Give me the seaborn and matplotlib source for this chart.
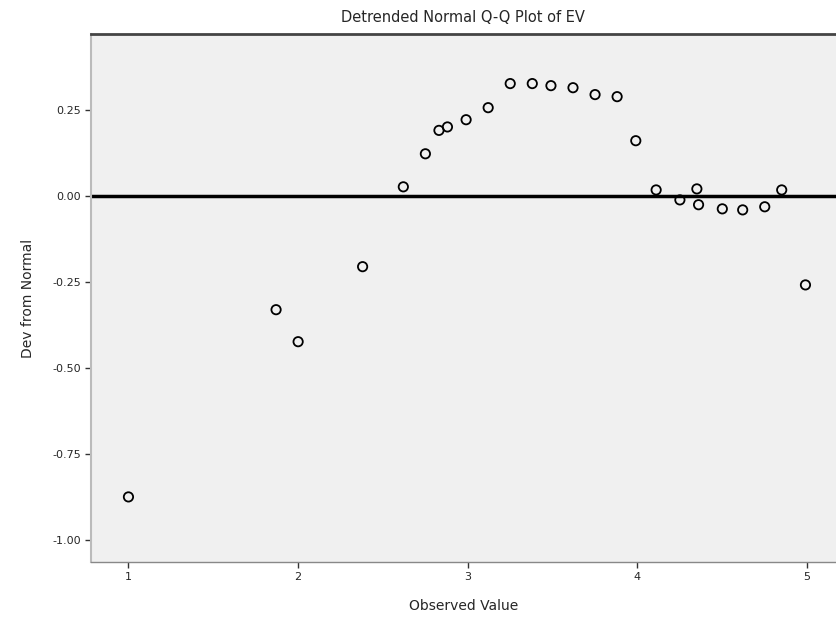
import matplotlib
matplotlib.use("Agg")
import matplotlib.pyplot as plt
import seaborn as sns
import pandas as pd

observed = [1.00, 1.87, 2.00, 2.38, 2.62, 2.75, 2.83, 2.88, 2.99, 3.12, 3.25, 3.38, 3.49,
            3.62, 3.75, 3.88, 3.99, 4.11, 4.25, 4.35, 4.36, 4.50, 4.62, 4.75, 4.85, 4.99]
dev = [-0.875, -0.331, -0.424, -0.206, 0.026, 0.122, 0.190, 0.200, 0.221, 0.256, 0.326,
       0.326, 0.320, 0.314, 0.294, 0.288, 0.160, 0.017, -0.012, 0.020, -0.026, -0.038,
       -0.041, -0.032, 0.017, -0.259]
x_ticks = [1, 2, 3, 4, 5]
y_ticks = [0.25, 0.00, -0.25, -0.50, -0.75, -1.00]

df = pd.DataFrame({"Observed Value": observed, "Dev from Normal": dev})

sns.set_style("white")
plt.rcParams['font.family'] = ['DejaVu Sans']

fig = plt.figure(figsize=(8.36, 6.3), dpi=100)
ax = fig.add_axes([0.109, 0.108, 0.891, 0.838])
ax.set_facecolor("#f0f0f0")

ax.axhline(0, color="black", lw=2.5, zorder=1)
sns.scatterplot(data=df, x="Observed Value", y="Dev from Normal", ax=ax,
                marker="o", s=45, facecolor="none", edgecolor="black",
                linewidth=1.3, zorder=3)

ax.set_xlim(0.78, 5.17)
ax.set_ylim(-1.064, 0.47)
ax.set_xticks(x_ticks)
ax.set_xticklabels([str(t) for t in x_ticks], fontsize=8)
ax.set_yticks(y_ticks)
ax.set_yticklabels([f"{t:.2f}" for t in y_ticks], fontsize=8)
ax.tick_params(axis="both", direction="out", length=4, width=1, color="#333333",
               left=True, bottom=True)

ax.spines["right"].set_visible(False)
ax.spines["top"].set_color("#444444")
ax.spines["top"].set_linewidth(2)
ax.spines["left"].set_color("#bbbbbb")
ax.spines["left"].set_linewidth(1.5)
ax.spines["bottom"].set_color("#888888")
ax.spines["bottom"].set_linewidth(1)

ax.set_xlabel("Observed Value", fontsize=10, labelpad=12)
ax.set_ylabel("Dev from Normal", fontsize=10, labelpad=12)
fig.text(0.554, 0.972, "Detrended Normal Q-Q Plot of EV", ha="center", va="center", fontsize=10.5)

fig.savefig("out.png", dpi=100, facecolor="white")
